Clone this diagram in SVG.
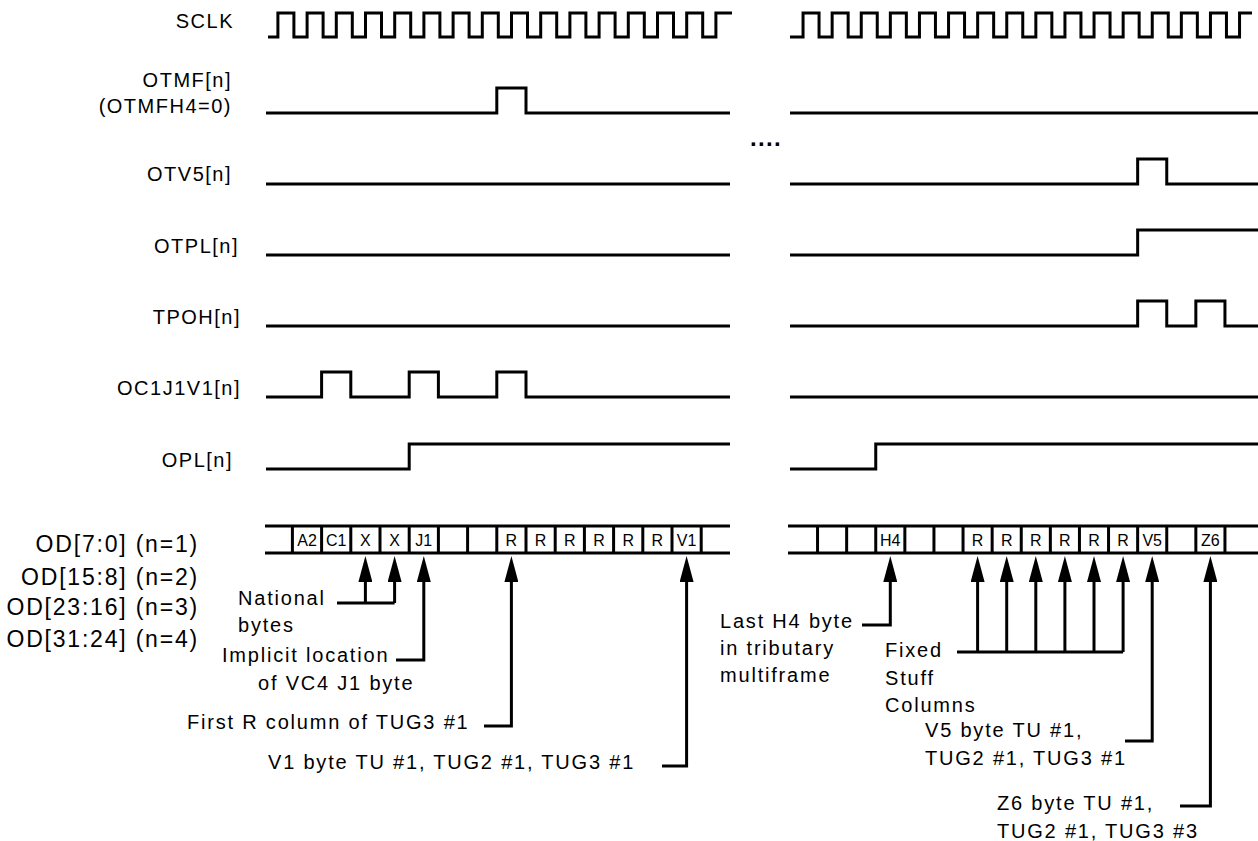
<svg xmlns="http://www.w3.org/2000/svg" width="1258" height="841" viewBox="0 0 1258 841">
<style>
  .sig { fill: none; stroke: #000; stroke-width: 3; stroke-linejoin: miter; stroke-linecap: butt; }
  .bus { fill: none; stroke: #000; stroke-width: 3; }
  .conn { fill: none; stroke: #000; stroke-width: 3; }
  text { font-family: "Liberation Sans", Arial, sans-serif; fill: #000; }
  .lbl { font-size: 20px; letter-spacing: 1.5px; text-anchor: end; }
  .od { font-size: 23px; letter-spacing: 1.8px; text-anchor: end; }
  .ann { font-size: 20px; letter-spacing: 1.8px; }
  .cell { font-size: 16px; text-anchor: middle; }
  .dots { font-size: 24px; font-weight: bold; letter-spacing: 1.3px; }
</style>
<defs>
  <marker id="arrow" viewBox="0 -7 26 14" refX="0" refY="0" markerWidth="26" markerHeight="14" markerUnits="userSpaceOnUse" orient="auto">
    <path d="M0,-7 L26,0 L0,7 Z" fill="#000"/>
  </marker>
</defs>
<rect width="1258" height="841" fill="#fff"/>

<g id="SCLK">
  <text class="lbl" x="234" y="28">SCLK</text>
  <path class="sig" d="M268,37 H277.9 V13 H293.9 V37 H307.1 V13 H323.1 V37 H336.3 V13 H352.3 V37 H365.5 V13 H381.5 V37 H394.7 V13 H410.7 V37 H423.9 V13 H439.9 V37 H453.1 V13 H469.1 V37 H482.3 V13 H498.3 V37 H511.5 V13 H527.5 V37 H540.7 V13 H556.7 V37 H569.9 V13 H585.9 V37 H599.1 V13 H615.1 V37 H628.3 V13 H644.3 V37 H657.5 V13 H673.5 V37 H686.7 V13 H702.7 V37 H715.9 V13 H732"/>
  <path class="sig" d="M790,37 H803.05 V13 H819.05 V37 H832.15 V13 H848.15 V37 H861.25 V13 H877.25 V37 H890.35 V13 H906.35 V37 H919.45 V13 H935.45 V37 H948.55 V13 H964.55 V37 H977.65 V13 H993.65 V37 H1006.75 V13 H1022.75 V37 H1035.85 V13 H1051.85 V37 H1064.95 V13 H1080.95 V37 H1094.05 V13 H1110.05 V37 H1123.15 V13 H1139.15 V37 H1152.25 V13 H1168.25 V37 H1181.35 V13 H1197.35 V37 H1210.45 V13 H1226.45 V37 H1239.55 V13 H1252"/>
</g>

<g id="OTMF">
  <text class="lbl" x="232" y="87">OTMF[n]</text>
  <text class="lbl" x="232" y="113">(OTMFH4=0)</text>
  <path class="sig" d="M266,113 H496.8 V88 H526 V113 H730"/>
  <path class="sig" d="M790,113 H1258"/>
</g>

<text class="dots" x="750" y="146">....</text>

<g id="OTV5">
  <text class="lbl" x="232" y="181">OTV5[n]</text>
  <path class="sig" d="M266,184 H730"/>
  <path class="sig" d="M790,184 H1137.65 V159 H1166.75 V184 H1258"/>
</g>

<g id="OTPL">
  <text class="lbl" x="239" y="253">OTPL[n]</text>
  <path class="sig" d="M266,255 H730"/>
  <path class="sig" d="M790,255 H1137.65 V230 H1258"/>
</g>

<g id="TPOH">
  <text class="lbl" x="241" y="324">TPOH[n]</text>
  <path class="sig" d="M266,326 H730"/>
  <path class="sig" d="M790,326 H1137.65 V301 H1166.75 V326 H1195.85 V301 H1224.95 V326 H1258"/>
</g>

<g id="OC1J1V1">
  <text class="lbl" x="241" y="395">OC1J1V1[n]</text>
  <path class="sig" d="M266,397 H321.6 V372 H350.8 V397 H409.2 V372 H438.4 V397 H496.8 V372 H526 V397 H730"/>
  <path class="sig" d="M790,397 H1258"/>
</g>

<g id="OPL">
  <text class="lbl" x="233" y="467">OPL[n]</text>
  <path class="sig" d="M266,469 H409.2 V444 H730"/>
  <path class="sig" d="M790,469 H875.75 V444 H1258"/>
</g>

<g id="OD">
  <text class="od" x="199" y="552">OD[7:0] (n=1)</text>
  <text class="od" x="199" y="585">OD[15:8] (n=2)</text>
  <text class="od" x="199" y="615">OD[23:16] (n=3)</text>
  <text class="od" x="199" y="647">OD[31:24] (n=4)</text>
  <path class="bus" d="M265,526 H730 M265,553 H730 M788,526 H1258 M788,553 H1258"/>
  <path class="bus" d="M292.4,526 V553 M321.6,526 V553 M350.8,526 V553 M380,526 V553 M409.2,526 V553 M438.4,526 V553 M467.6,526 V553 M496.8,526 V553 M526,526 V553 M555.2,526 V553 M584.4,526 V553 M613.6,526 V553 M642.8,526 V553 M672,526 V553 M701.2,526 V553"/>
  <path class="bus" d="M817.55,526 V553 M846.65,526 V553 M875.75,526 V553 M904.85,526 V553 M933.95,526 V553 M963.05,526 V553 M992.15,526 V553 M1021.25,526 V553 M1050.35,526 V553 M1079.45,526 V553 M1108.55,526 V553 M1137.65,526 V553 M1166.75,526 V553 M1195.85,526 V553 M1224.95,526 V553"/>
  <text class="cell" x="307" y="545.5">A2</text>
  <text class="cell" x="336.2" y="545.5">C1</text>
  <text class="cell" x="365.4" y="545.5">X</text>
  <text class="cell" x="394.6" y="545.5">X</text>
  <text class="cell" x="423.8" y="545.5">J1</text>
  <text class="cell" x="511.4" y="545.5">R</text>
  <text class="cell" x="540.6" y="545.5">R</text>
  <text class="cell" x="569.8" y="545.5">R</text>
  <text class="cell" x="599" y="545.5">R</text>
  <text class="cell" x="628.2" y="545.5">R</text>
  <text class="cell" x="657.4" y="545.5">R</text>
  <text class="cell" x="686.6" y="545.5">V1</text>
  <text class="cell" x="890.3" y="545.5">H4</text>
  <text class="cell" x="977.6" y="545.5">R</text>
  <text class="cell" x="1006.7" y="545.5">R</text>
  <text class="cell" x="1035.8" y="545.5">R</text>
  <text class="cell" x="1064.9" y="545.5">R</text>
  <text class="cell" x="1094" y="545.5">R</text>
  <text class="cell" x="1123.1" y="545.5">R</text>
  <text class="cell" x="1152.2" y="545.5">V5</text>
  <text class="cell" x="1210.4" y="545.5">Z6</text>
</g>

<g id="ann-national">
  <text class="ann" x="238" y="605">National</text>
  <text class="ann" x="238" y="632">bytes</text>
</g>
<g id="ann-implicit">
  <text class="ann" x="222" y="662">Implicit location</text>
  <text class="ann" x="258" y="690">of VC4 J1 byte</text>
</g>
<g id="ann-firstR">
  <text class="ann" x="187" y="729">First R column of TUG3 #1</text>
</g>
<g id="ann-v1">
  <text class="ann" x="268" y="769">V1 byte TU #1, TUG2 #1, TUG3 #1</text>
</g>
<g id="ann-h4">
  <text class="ann" x="720" y="628">Last H4 byte</text>
  <text class="ann" x="720" y="655">in tributary</text>
  <text class="ann" x="720" y="682">multiframe</text>
</g>
<g id="ann-fixed">
  <text class="ann" x="885" y="657">Fixed</text>
  <text class="ann" x="885" y="685">Stuff</text>
  <text class="ann" x="885" y="712">Columns</text>
</g>
<g id="ann-v5">
  <text class="ann" x="925" y="737">V5 byte TU #1,</text>
  <text class="ann" x="925" y="765">TUG2 #1, TUG3 #1</text>
</g>
<g id="ann-z6">
  <text class="ann" x="997" y="810">Z6 byte TU #1,</text>
  <text class="ann" x="997" y="838">TUG2 #1, TUG3 #3</text>
</g>

<g id="connectors">
  <path class="conn" d="M337,603 H394.6"/>
  <path class="conn" d="M365.4,603 V582" marker-end="url(#arrow)"/>
  <path class="conn" d="M394.6,603 V582" marker-end="url(#arrow)"/>
  <path class="conn" d="M396,660 H423.8 V582" marker-end="url(#arrow)"/>
  <path class="conn" d="M484,726 H511.4 V582" marker-end="url(#arrow)"/>
  <path class="conn" d="M662,766 H686.6 V582" marker-end="url(#arrow)"/>
  <path class="conn" d="M862,625 H890.3 V582" marker-end="url(#arrow)"/>
  <path class="conn" d="M957,652 H1123.1"/>
  <path class="conn" d="M977.6,652 V582" marker-end="url(#arrow)"/>
  <path class="conn" d="M1006.7,652 V582" marker-end="url(#arrow)"/>
  <path class="conn" d="M1035.8,652 V582" marker-end="url(#arrow)"/>
  <path class="conn" d="M1064.9,652 V582" marker-end="url(#arrow)"/>
  <path class="conn" d="M1094,652 V582" marker-end="url(#arrow)"/>
  <path class="conn" d="M1123.1,652 V582" marker-end="url(#arrow)"/>
  <path class="conn" d="M1125,741 H1152.2 V582" marker-end="url(#arrow)"/>
  <path class="conn" d="M1180,806 H1210.4 V582" marker-end="url(#arrow)"/>
</g>
</svg>
